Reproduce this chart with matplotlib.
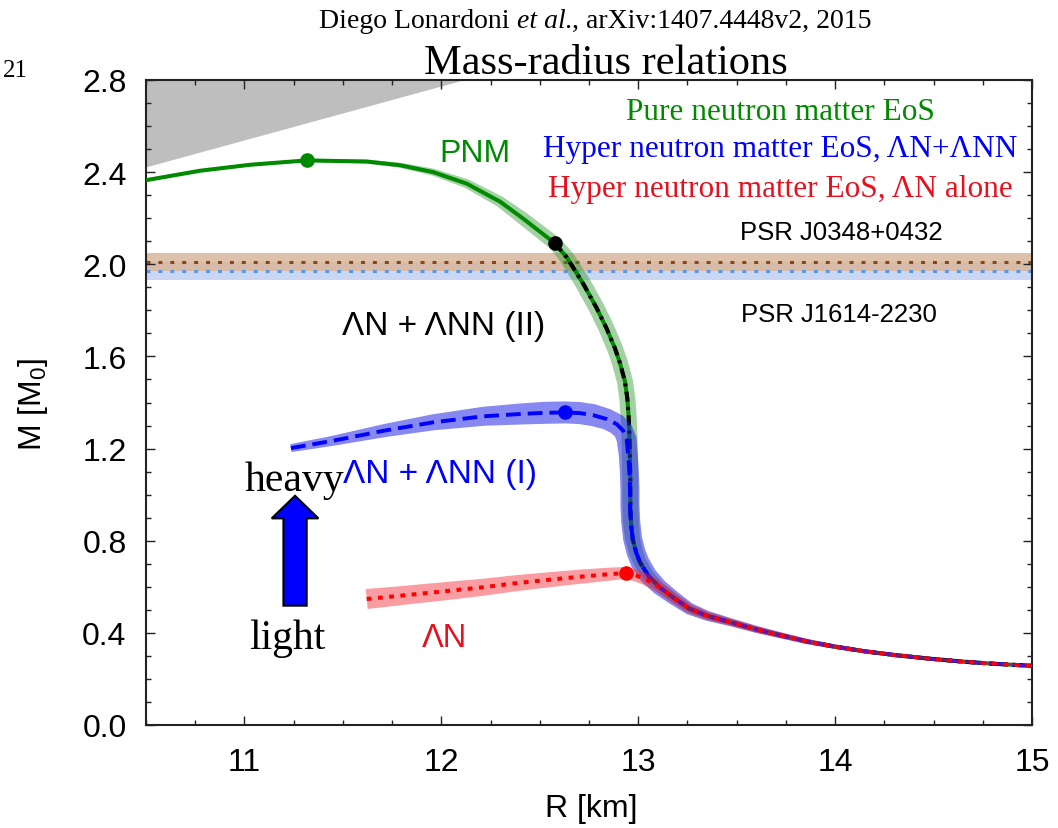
import numpy as np
import matplotlib
matplotlib.use("Agg")
import matplotlib.pyplot as plt
from matplotlib.patches import Polygon, FancyArrow
from matplotlib.ticker import MultipleLocator

plt.rcParams['font.family'] = ['Liberation Sans', 'DejaVu Sans']
plt.rcParams['mathtext.fontset'] = 'custom'
plt.rcParams['mathtext.rm'] = 'Liberation Sans'

# ---------------- data ----------------
# causality limit (grey excluded region)
caus_R = [10.5, 12.11]
caus_M = [2.423, 2.80]

# pulsar masses (M_sun) and uncertainties
psr_names = ["PSR J0348+0432", "PSR J1614-2230"]
psr_mass = [2.01, 1.97]
psr_err = [0.04, 0.04]

# common low-mass (large-radius) branch
tail_R = [13.11, 13.18, 13.26, 13.35, 13.47, 13.60, 13.72, 13.86, 14.00, 14.15,
          14.31, 14.48, 14.65, 14.82, 15.00]
tail_M = [0.597, 0.552, 0.505, 0.474, 0.446, 0.415, 0.390, 0.362, 0.340, 0.320,
          0.303, 0.288, 0.275, 0.265, 0.257]

# pure neutron matter
pnm_R = [10.50, 10.774, 11.028, 11.316, 11.621, 11.79, 11.959, 12.129, 12.298, 12.413,
         12.577, 12.637, 12.721, 12.789, 12.84, 12.882, 12.907, 12.933, 12.945, 12.952,
         12.956, 12.958, 12.960, 12.960, 12.963, 12.972, 12.989, 13.009, 13.051]
pnm_M = [2.365, 2.406, 2.432, 2.451, 2.446, 2.430, 2.400, 2.350, 2.272, 2.200,
         2.091, 2.030, 1.915, 1.810, 1.720, 1.635, 1.572, 1.490, 1.415, 1.330,
         1.240, 1.150, 1.060, 0.970, 0.880, 0.807, 0.750, 0.706, 0.648]

# hyper neutron matter, LN + LNN (II)
ii_R = [12.577, 12.637, 12.721, 12.789, 12.84, 12.882, 12.907, 12.933, 12.945, 12.952,
        12.956, 12.958, 12.960, 12.960, 12.963, 12.972, 12.989, 13.009, 13.051]
ii_M = [2.091, 2.030, 1.915, 1.810, 1.720, 1.635, 1.572, 1.490, 1.415, 1.330,
        1.240, 1.150, 1.060, 0.970, 0.880, 0.807, 0.750, 0.706, 0.648]

# hyper neutron matter, LN + LNN (I)
i_R = [11.236, 11.451, 11.705, 11.959, 12.213, 12.40, 12.52, 12.628, 12.704, 12.772,
       12.84, 12.891, 12.924, 12.941, 12.95, 12.955, 12.958, 12.958, 12.962, 12.972,
       12.989, 13.009, 13.051]
i_M = [1.202, 1.234, 1.277, 1.314, 1.340, 1.350, 1.355, 1.357, 1.354, 1.345,
       1.328, 1.306, 1.277, 1.241, 1.169, 1.097, 1.024, 0.952, 0.880, 0.807,
       0.750, 0.706, 0.648]

# hyper neutron matter, LN alone
ln_R = [11.621, 11.79, 12.044, 12.213, 12.383, 12.552, 12.721, 12.857, 12.938, 12.992, 13.043]
ln_M = [0.547, 0.561, 0.583, 0.598, 0.616, 0.631, 0.645, 0.655, 0.660, 0.648, 0.631]

x_ticks = [11, 12, 13, 14, 15]
y_ticks = [0.0, 0.4, 0.8, 1.2, 1.6, 2.0, 2.4, 2.8]

# ---------------- style ----------------
GREEN = '#008a00'
BLUE = '#0000ff'
RED = '#ff0000'
TXT_RED = '#e8101e'
band_hw_pnm = [1.5, 1.5, 1.5, 1.5, 2, 2.5, 3.5, 4.5, 5.5, 6.5,
               7, 7.5, 8, 8, 8, 8, 8, 8, 8, 8,
               8, 8, 8, 8, 8, 7.5, 7, 6.5, 6]
band_hw_i = [4, 5, 6.5, 8, 9.5, 10.5, 11, 11, 11, 11,
             10.5, 10.5, 10, 10, 9.5, 9.5, 9.5, 9.5, 9.5, 9.5,
             9.5, 9.5, 9]
band_hw_ln = [10, 9.5, 9, 8.5, 8, 7.5, 7, 6.5, 6, 6, 6]
band_hw_tail_pnm = [5, 4.5, 4, 3.5, 3, 2.7, 2.4, 2.1, 1.9, 1.7, 1.5, 1.3, 1.2, 1.1, 1]
band_hw_tail_i = [8, 7, 6, 5, 4, 3.5, 3, 2.6, 2.3, 2, 1.8, 1.6, 1.4, 1.2, 1]
band_hw_tail_ln = [5.5, 5, 4.5, 4, 3.5, 3.1, 2.8, 2.5, 2.2, 2, 1.8, 1.6, 1.4, 1.2, 1]

W, H, DPI = 1058, 829, 100
fig = plt.figure(figsize=(W / DPI, H / DPI), dpi=DPI)
ax = fig.add_axes([146 / W, 1 - 726 / H, (1032 - 146) / W, (726 - 81) / H])
ax.set_xlim(10.5, 15)
ax.set_ylim(0, 2.8)


def band(R, M, hw_px, color, alpha, z):
    P = ax.transData.transform(np.column_stack([R, M]))
    d = np.gradient(P, axis=0)
    n = np.column_stack([-d[:, 1], d[:, 0]])
    n /= np.linalg.norm(n, axis=1)[:, None]
    hw = np.asarray(hw_px, float)[:, None]
    poly = np.vstack([P + n * hw, (P - n * hw)[::-1]])
    poly = ax.transData.inverted().transform(poly)
    ax.add_patch(Polygon(poly, closed=True, facecolor=color, alpha=alpha,
                         edgecolor='none', zorder=z))


# causality region
ax.fill_between(caus_R, caus_M, [2.8, 2.8], color='#bebebe', lw=0, zorder=1)

# pulsar bands
band_cols = ['#d9b79c', '#c9d7f5']
line_cols = ['#8b4513', '#5a96e6']
for k in [1, 0]:
    ax.axhspan(psr_mass[k] - psr_err[k], psr_mass[k] + psr_err[k], color=band_cols[k],
               alpha=0.85 if k == 0 else 1.0, lw=0, zorder=1)
for k in [1, 0]:
    ax.axhline(psr_mass[k], color=line_cols[k], lw=2.2, ls=(0, (1.3, 2.6)), zorder=2)

# curves
R_pnm = pnm_R + tail_R; M_pnm = pnm_M + tail_M
R_ii = ii_R + tail_R; M_ii = ii_M + tail_M
R_i = i_R + tail_R; M_i = i_M + tail_M
R_ln = ln_R + tail_R; M_ln = ln_M + tail_M

band(R_pnm, M_pnm, band_hw_pnm + band_hw_tail_pnm, (0.2, 0.6, 0.2), 0.45, 3)
ax.plot(R_pnm, M_pnm, color=GREEN, lw=2.9, solid_joinstyle='round', zorder=4)
ax.plot(R_ii, M_ii, color='black', lw=2.9, ls=(0, (2.5, 1.3, 0.8, 1.3)), zorder=5)
band(R_i, M_i, band_hw_i + band_hw_tail_i, (0.15, 0.15, 0.9), 0.55, 6)
ax.plot(R_i, M_i, color=BLUE, lw=2.8, ls=(0, (3.8, 1.8)), zorder=7)
band(R_ln, M_ln, band_hw_ln + band_hw_tail_ln, (0.95, 0.15, 0.2), 0.45, 8)
ax.plot(R_ln, M_ln, color=RED, lw=2.9, ls=(0, (1.2, 1.6)), zorder=9)

# maximum-mass markers
for R, M, c in [(pnm_R, pnm_M, GREEN), (ii_R, ii_M, 'black'), (i_R, i_M, BLUE), (ln_R, ln_M, RED)]:
    j = int(np.argmax(M))
    ax.plot([R[j]], [M[j]], 'o', color=c, ms=9.5, zorder=10)

# axes styling
ax.xaxis.set_minor_locator(MultipleLocator(0.25))
ax.yaxis.set_minor_locator(MultipleLocator(0.1))
ax.set_xticks(x_ticks)
ax.set_xticklabels([str(t) for t in x_ticks])
ax.set_yticks(y_ticks)
ax.set_yticklabels([f"{t:.1f}" for t in y_ticks])
ax.tick_params(which='both', direction='in', top=True, right=True, width=1.0, color='#222222')
ax.tick_params(which='major', length=6.2)
ax.tick_params(which='minor', length=3.3)
ax.tick_params(axis='y', labelsize=23, pad=14.0)
ax.tick_params(axis='x', labelsize=23, pad=15.5)
for s in ax.spines.values():
    s.set_linewidth(1.5)
    s.set_color('#222222')

ax.set_xlabel("R [km]", fontsize=23)
ax.xaxis.set_label_coords(0.503, -0.106)
ax.set_ylabel(r"M [M$_\mathregular{0}$]", fontsize=23)
ax.yaxis.set_label_coords(-0.108, 0.499)

# labels in the plot
ax.text(12.169, 2.449, "PNM", color=GREEN, fontsize=23, ha='center', va='baseline', zorder=11)
ax.text(12.013, 1.697, "ΛN + ΛNN (II)", color='black', fontsize=24, ha='center', va='baseline', zorder=11)
ax.text(11.992, 1.053, "ΛN + ΛNN (I)", color=BLUE, fontsize=24, ha='center', va='baseline', zorder=11)
ax.text(12.014, 0.344, "ΛN", color=TXT_RED, fontsize=23.5, ha='center', va='baseline', zorder=11)
ax.text(14.033, 2.109, psr_names[0], color='black', fontsize=18.5, ha='center', va='baseline', zorder=11)
ax.text(14.02, 1.755, psr_names[1], color='black', fontsize=18.5, ha='center', va='baseline', zorder=11)

serif = ['Liberation Serif', 'DejaVu Serif']
ax.text(13.72, 2.630, "Pure neutron matter EoS", color=GREEN, fontsize=22.5, family=serif,
        ha='center', va='baseline', zorder=11)
ax.text(13.72, 2.471, "Hyper neutron matter EoS, ΛN+ΛNN", color=BLUE, fontsize=22.5, family=serif,
        ha='center', va='baseline', zorder=11)
ax.text(13.72, 2.297, "Hyper neutron matter EoS, ΛN alone", color=TXT_RED, fontsize=22.5, family=serif,
        ha='center', va='baseline', zorder=11)

ax.text(11.252, 1.02, "heavy", color='black', fontsize=30, family=serif, ha='center', va='baseline', zorder=11)
ax.text(11.219, 0.333, "light", color='black', fontsize=30, family=serif, ha='center', va='baseline', zorder=11)
ax.add_patch(FancyArrow(11.257, 0.518, 0, 0.477, width=0.118, head_width=0.237, head_length=0.098,
                        length_includes_head=True, fc='#0000ff', ec='black', lw=1.5, zorder=11))

# page header
h1 = fig.text(319 / W, 1 - 28.3 / H, "Diego Lonardoni", family=serif, fontsize=20,
              ha='left', va='baseline')
h2 = ax.annotate("et al.", xy=(1, 0), xycoords=h1, xytext=(5, 0), textcoords='offset points',
                 family=serif, style='italic', fontsize=20, ha='left', va='bottom',
                 annotation_clip=False)
ax.annotate(", arXiv:1407.4448v2, 2015", xy=(1, 0), xycoords=h2, family=serif, fontsize=20,
            ha='left', va='bottom', annotation_clip=False)
fig.text(606 / W, 1 - 74 / H, "Mass-radius relations", family=serif, fontsize=30.5,
         ha='center', va='baseline')
fig.text(15 / W, 1 - 76.7 / H, "21", family=serif, fontsize=18, ha='center', va='baseline')

fig.savefig("out.png", dpi=DPI)
